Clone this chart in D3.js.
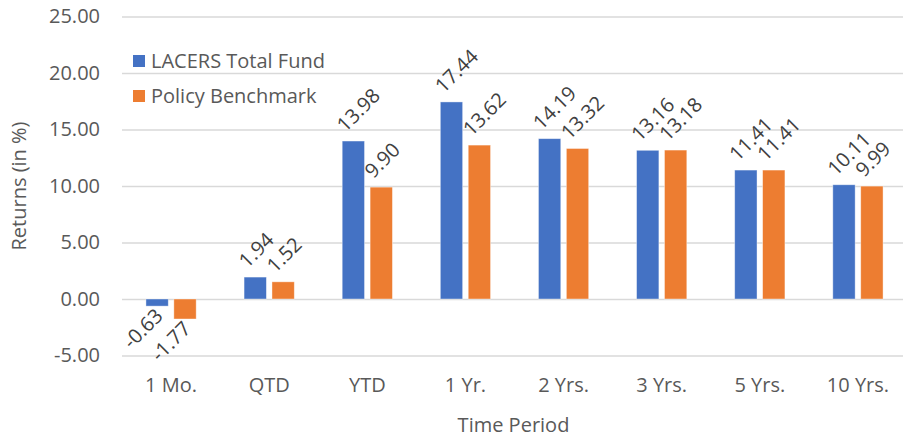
<!doctype html>
<html>
<head>
<meta charset="utf-8">
<title>Returns</title>
<script src="https://cdn.jsdelivr.net/npm/d3@7"></script>
<style>
  body { margin: 0; background: #fff; }
  text { font-family: "Open Sans", "Noto Sans", sans-serif; }
</style>
</head>
<body>
<script>
// chart data
var periods = ['1 Mo.', 'QTD', 'YTD', '1 Yr.', '2 Yrs.', '3 Yrs.', '5 Yrs.', '10 Yrs.'];
var seriesNames = ['LACERS Total Fund', 'Policy Benchmark'];
var fundValues = [-0.63, 1.94, 13.98, 17.44, 14.19, 13.16, 11.41, 10.11];
var benchValues = [-1.77, 1.52, 9.90, 13.62, 13.32, 13.18, 11.41, 9.99];
var yTicks = [-5, 0, 5, 10, 15, 20, 25];
var colors = ['#4472C4', '#ED7D31'];

var width = 903, height = 440;
var margin = {left: 122, right: -4, top: 16.5, bottom: 84.5};

// plain hyphen instead of the unicode minus d3 uses
var fmt = function(v) { return d3.format('.2f')(v).replace('\u2212', '-'); };

var svg = d3.select('body').append('svg')
  .attr('width', width)
  .attr('height', height);

var x0 = d3.scaleBand()
  .domain(periods)
  .range([margin.left, width - margin.right])
  .paddingInner(0.488)
  .paddingOuter(0.244);

var x1 = d3.scaleBand()
  .domain(seriesNames)
  .range([0, x0.bandwidth()])
  .paddingInner(0.2);

var y = d3.scaleLinear()
  .domain([-5, 25])
  .range([height - margin.bottom, margin.top]);

// gridlines + tick labels
var yAxis = d3.axisLeft(y)
  .tickValues(yTicks)
  .tickSize(-(width - margin.left - margin.right))
  .tickPadding(22)
  .tickFormat(fmt);

var gy = svg.append('g')
  .attr('transform', 'translate(' + margin.left + ',0)')
  .call(yAxis);
gy.select('.domain').remove();
gy.selectAll('.tick line').attr('stroke', '#d9d9d9').attr('stroke-width', 1.3);
gy.selectAll('.tick text')
  .attr('fill', '#595959')
  .style('font-size', '20px');

// bars
var rows = periods.map(function(p, i) {
  return {period: p, values: [fundValues[i], benchValues[i]]};
});

var groups = svg.append('g').selectAll('g')
  .data(rows)
  .enter().append('g')
  .attr('transform', function(d) { return 'translate(' + x0(d.period) + ',0)'; });

groups.selectAll('rect')
  .data(function(d) {
    return d.values.map(function(v, j) { return {name: seriesNames[j], value: v, idx: j}; });
  })
  .enter().append('rect')
  .attr('x', function(d) { return x1(d.name); })
  .attr('width', x1.bandwidth())
  .attr('y', function(d) { return y(Math.max(0, d.value)); })
  .attr('height', function(d) { return Math.abs(y(d.value) - y(0)); })
  .attr('fill', function(d) { return colors[d.idx]; })
  .attr('stroke', '#ffffff')
  .attr('stroke-opacity', 0.5)
  .attr('stroke-width', 0.8);

// rotated data labels, each in its own positioned group
var lbl = groups.selectAll('g.lbl')
  .data(function(d) {
    return d.values.map(function(v, j) { return {name: seriesNames[j], value: v}; });
  })
  .enter().append('g')
  .attr('class', 'lbl')
  .attr('transform', function(d) {
    var cx = x1(d.name) + x1.bandwidth() / 2;
    if (d.value < 0) return 'translate(' + (cx + 7) + ',' + (y(d.value) + 11) + ')';
    return 'translate(' + (cx - 8) + ',' + (y(d.value) - 8) + ')';
  });

lbl.append('text')
  .attr('fill', '#404040')
  .style('font-size', '20px')
  .attr('text-anchor', function(d) { return d.value < 0 ? 'end' : 'start'; })
  .attr('transform', 'rotate(-45)')
  .text(function(d) { return fmt(d.value); });

// x axis labels
var xAxis = d3.axisBottom(x0).tickSize(0).tickPadding(0);
var gx = svg.append('g')
  .attr('transform', 'translate(0,' + 392 + ')')
  .call(xAxis);
gx.select('.domain').remove();
gx.selectAll('.tick text')
  .attr('dy', 0)
  .attr('fill', '#595959')
  .style('font-size', '20px');

// axis titles
svg.append('text')
  .attr('x', (margin.left + width) / 2 + 1)
  .attr('y', 432)
  .attr('text-anchor', 'middle')
  .attr('fill', '#595959')
  .style('font-size', '20px')
  .text('Time Period');

svg.append('text')
  .attr('transform', 'translate(26,' + 186 + ') rotate(-90)')
  .attr('text-anchor', 'middle')
  .attr('fill', '#595959')
  .style('font-size', '20px')
  .text('Returns (in %)');

// legend
var legend = svg.append('g');
seriesNames.forEach(function(name, i) {
  var ly = 55 + i * 35;
  legend.append('rect')
    .attr('x', 133).attr('y', ly)
    .attr('width', 12).attr('height', 12)
    .attr('fill', colors[i]);
  legend.append('text')
    .attr('x', 151).attr('y', ly + 13)
    .attr('fill', '#595959')
    .style('font-size', '20px')
    .text(name);
});
</script>
</body>
</html>
